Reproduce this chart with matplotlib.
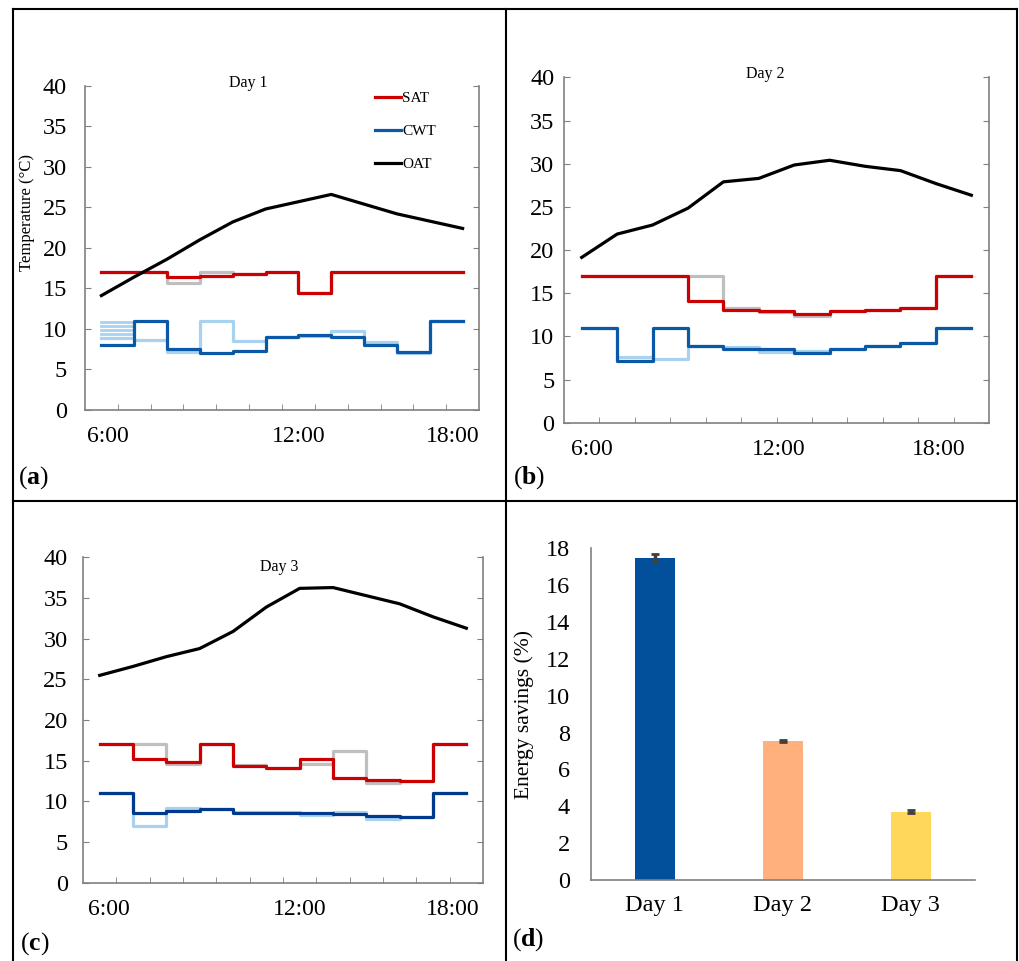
import numpy as np
import matplotlib
matplotlib.use('Agg')
from matplotlib import pyplot as plt
from matplotlib.lines import Line2D

plt.rcParams['font.family'] = ['Liberation Serif', 'DejaVu Serif']
plt.rcParams['mathtext.fontset'] = 'custom'
plt.rcParams['mathtext.rm'] = 'Liberation Serif'
plt.rcParams['mathtext.bf'] = 'Liberation Serif:bold'

# hourly points (category index), labels shown under the axis
hours       = np.arange(12)
time_labels = ['6:00', '12:00', '18:00']

# Day 1 (step values hold over each hour segment)
oat_day1      = [14.1, 16.4, 18.6, 21.0, 23.2, 24.8, 25.7, 26.6, 25.4, 24.2, 23.3, 22.4]
sat_day1      = [17.0, 17.0, 16.4, 16.5, 16.8, 17.0, 14.4, 17.0, 17.0, 17.0, 17.0]
sat_base_day1 = [17.0, 17.0, 15.7, 17.0, 16.8, 17.0, 14.4, 17.0, 17.0, 17.0, 17.0]
cwt_day1      = [7.95, 10.95, 7.55, 7.05, 7.2, 8.95, 9.2, 9.0, 7.95, 7.1, 10.95]
cwt_base_day1 = [8.8, 8.65, 7.1, 10.9, 8.5, 9.0, 9.1, 9.7, 8.4, 7.0, 10.95]
cwt_base_day1_start = [10.8, 10.3, 9.8, 9.3]

# Day 2
oat_day2      = [19.15, 21.85, 22.9, 24.85, 27.9, 28.3, 29.85, 30.4, 29.7, 29.2, 27.7, 26.35]
sat_day2      = [17.0, 17.0, 17.0, 14.05, 13.0, 12.9, 12.6, 12.95, 13.0, 13.3, 17.0]
sat_base_day2 = [17.0, 17.0, 17.0, 17.0, 13.3, 12.85, 12.4, 12.95, 13.0, 13.3, 17.0]
cwt_day2      = [10.95, 7.1, 10.95, 8.85, 8.5, 8.5, 8.1, 8.5, 8.9, 9.25, 10.95]
cwt_base_day2 = [10.95, 7.6, 7.4, 8.85, 8.8, 8.2, 8.3, 8.5, 8.9, 9.25, 10.95]

# Day 3
oat_day3      = [25.5, 26.6, 27.8, 28.8, 30.9, 33.9, 36.2, 36.3, 35.3, 34.3, 32.7, 31.3]
sat_day3      = [17.0, 15.2, 14.9, 17.0, 14.3, 14.05, 15.2, 12.85, 12.65, 12.45, 17.0]
sat_base_day3 = [17.0, 17.0, 14.6, 17.0, 14.5, 14.05, 14.6, 16.25, 12.2, 12.45, 17.0]
cwt_day3      = [11.0, 8.55, 8.85, 9.1, 8.55, 8.6, 8.6, 8.4, 8.25, 8.05, 11.0]
cwt_base_day3 = [11.0, 7.0, 9.15, 9.1, 8.7, 8.7, 8.3, 8.7, 7.85, 8.05, 11.0]

# Energy savings
days        = ['Day 1', 'Day 2', 'Day 3']
savings     = [17.47, 7.56, 3.71]
savings_err = [0.23, 0.05, 0.07]

RED   = '#cc0000'
GRAY  = '#bfbfbf'
LBLUE = '#a9d2f0'
SPINE = '#808080'


def stepped(vals):
    return np.append(vals, vals[-1])


def draw_day(ax, oat, sat, sat_base, cwt, cwt_base, blue, tick_pos, ypad):
    ax.step(hours, stepped(sat_base), where='post', color=GRAY, lw=2.3, zorder=2)
    ax.step(hours, stepped(cwt_base), where='post', color=LBLUE, lw=2.3, zorder=2)
    l1, = ax.step(hours, stepped(sat), where='post', color=RED, lw=2.3, zorder=3, label='SAT')
    l2, = ax.step(hours, stepped(cwt), where='post', color=blue, lw=2.3, zorder=3, label='CWT')
    l3, = ax.plot(hours, oat, color='k', lw=2.3, zorder=4, label='OAT')

    ax.set_xlim(-0.5, 11.5)
    ax.set_ylim(0, 40)
    ax.set_yticks(np.arange(0, 41, 5))
    ax.set_xticks(tick_pos)
    ax.set_xticklabels(time_labels)
    ax.set_xticks(np.arange(0.5, 11, 1), minor=True)
    ax.tick_params(axis='x', which='major', length=0, pad=12, labelsize=17)
    ax.tick_params(axis='x', which='minor', direction='in', length=4, color=SPINE)
    ax.tick_params(axis='y', direction='in', length=4, color=SPINE, right=True,
                   labelsize=17.5, pad=ypad)
    ax.spines['top'].set_visible(False)
    for s in ['left', 'right', 'bottom']:
        ax.spines[s].set_color(SPINE)
        ax.spines[s].set_linewidth(1.2)
    return [l1, l2, l3]


def main():
    fig = plt.figure(figsize=(10.19, 9.61), dpi=100)

    ax_a = fig.add_axes([0.0834, 0.5737, 0.3867, 0.3368])
    ax_b = fig.add_axes([0.5535, 0.5601, 0.4171, 0.3594])
    ax_c = fig.add_axes([0.0815, 0.0815, 0.3925, 0.3384])
    ax_d = fig.add_axes([0.5797, 0.0843, 0.3771, 0.3452])

    # Panel (a)
    handles = draw_day(ax_a, oat_day1, sat_day1, sat_base_day1, cwt_day1, cwt_base_day1,
                       '#0a58a6', [0.2, 6.0, 10.7], 13)
    for v in cwt_base_day1_start:
        ax_a.plot(hours[:2], [v, v], color=LBLUE, lw=2.0, zorder=1)
    ax_a.set_ylabel('Temperature (\u00b0C)', fontsize=12)
    ax_a.yaxis.set_label_coords(-0.128, 0.61)
    ax_a.text(0.414, 1.009, 'Day 1', transform=ax_a.transAxes, ha='center', va='center', fontsize=11.5)
    ax_a.legend(handles=handles, loc='upper left', bbox_to_anchor=(0.70, 1.025), frameon=False,
                fontsize=11, handlelength=1.7, handletextpad=0.1, labelspacing=1.25)

    # Panel (b)
    draw_day(ax_b, oat_day2, sat_day2, sat_base_day2, cwt_day2, cwt_base_day2,
             '#0a58a6', [0.29, 5.55, 10.07], 7)
    ax_b.text(0.473, 1.0095, 'Day 2', transform=ax_b.transAxes, ha='center', va='center', fontsize=11.5)

    # Panel (c)
    draw_day(ax_c, oat_day3, sat_day3, sat_base_day3, cwt_day3, cwt_base_day3,
             '#003a8c', [0.28, 6.0, 10.6], 11)
    ax_c.text(0.49, 0.971, 'Day 3', transform=ax_c.transAxes, ha='center', va='center', fontsize=11.5)

    # Panel (d)
    x = np.arange(len(days))
    ax_d.bar(x, savings, width=0.31, color=['#02509b', '#ffb07d', '#ffd75a'], zorder=2)
    ax_d.errorbar(x, savings, yerr=savings_err, fmt='none', ecolor='#404040',
                  elinewidth=2.5, capsize=3, capthick=2, zorder=3)
    ax_d.set_xlim(-0.5, 2.5)
    ax_d.set_ylim(0, 18)
    ax_d.set_yticks(np.arange(0, 19, 2))
    ax_d.set_xticks(x)
    ax_d.set_xticklabels(days)
    ax_d.tick_params(axis='both', length=0, labelsize=17.5)
    ax_d.tick_params(axis='y', pad=15)
    ax_d.tick_params(axis='x', pad=11)
    ax_d.set_ylabel('Energy savings (%)', fontsize=15.5)
    ax_d.yaxis.set_label_coords(-0.148, 0.5)
    ax_d.spines['top'].set_visible(False)
    ax_d.spines['right'].set_visible(False)
    for s in ['left', 'bottom']:
        ax_d.spines[s].set_color(SPINE)
        ax_d.spines[s].set_linewidth(1.2)

    # Panel letters
    for lab, px, py in [('a', 0.0177, 0.503), ('b', 0.503, 0.503),
                        ('c', 0.0196, 0.018), ('d', 0.502, 0.022)]:
        fig.text(px, py, r'($\mathbf{%s}$)' % lab, fontsize=18.5, ha='left', va='center')

    # Table borders
    xl, xm, xr = 13 / 1019, 506 / 1019, 1017 / 1019
    yt, ym = 1 - 9 / 961, 1 - 501 / 961
    for xs, ys in [([xl, xr], [yt, yt]), ([xl, xr], [ym, ym]),
                   ([xl, xl], [0, yt]), ([xm, xm], [0, yt]), ([xr, xr], [0, yt])]:
        fig.add_artist(Line2D(xs, ys, transform=fig.transFigure, color='k', lw=1.5))

    fig.savefig('out.png', dpi=100)
    plt.close(fig)


if __name__ == '__main__': main()
